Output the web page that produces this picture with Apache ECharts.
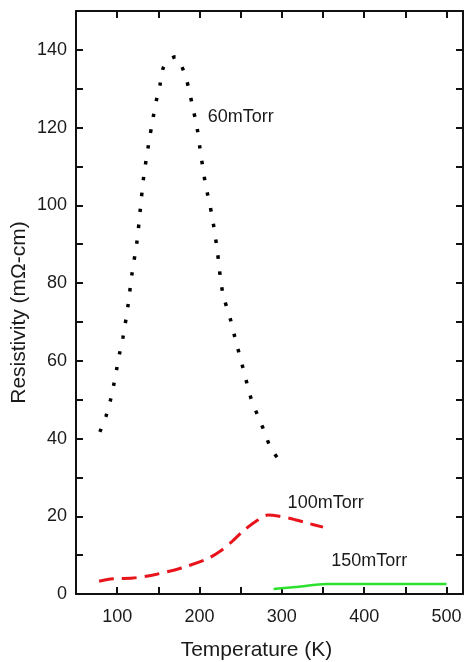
<!DOCTYPE html>
<html>
<head>
<meta charset="utf-8">
<script src="https://cdn.jsdelivr.net/npm/echarts@6/dist/echarts.min.js"></script>
<style>
html,body{margin:0;padding:0;background:#fff;}
#c{width:467px;height:662px;}
</style>
</head>
<body>
<div id="c"></div>
<script>
// Data (Temperature K, Resistivity mΩ-cm)
const seriesNames = ['60mTorr', '100mTorr', '150mTorr'];
const data60 = [[79,41.7],[86.5,45.8],[92,50],[96,54],[99.5,58],[103,62],[107,66],[113,74],[118,82.4],[124,90.6],[128,98.8],[132,107],[138,115.5],[144,123],[148,127.4],[152,131],[156,135.4],[163,137.5],[171,138.2],[181,134.4],[187,130],[191,126],[197,120],[201,114],[207,105.8],[215,97.5],[221,89.3],[228,77.7],[238,70.3],[243,66],[253,58],[263,50],[271,45.8],[279,41.7],[286,37.8],[298,34]];
const data100 = [[78,3.3],[95,3.9],[119,4.1],[148,5.1],[178,6.7],[209,9],[225,11],[240,13.6],[253,16.2],[269,18.8],[283,20.3],[297,20],[313,19.3],[330,18.3],[350,17.2]];
const data150 = [[290,1.3],[318,1.8],[354,2.6],[398,2.6],[446,2.6],[500,2.6]];
// annotation anchor points (data coords)
const labelPoints = [[210,122.7],[307,23.4],[360,8.5]];
const xTickLabels = [100,200,300,400,500];
const yTickLabels = [0,20,40,60,80,100,120,140];

const font = 'Liberation Sans, Arial, Helvetica, sans-serif';
const txt = '#1a1a1a';

function xAxisCfg(show, pos){
  return {
    type:'value', position:pos, min:50, max:520, interval:50,
    axisLine:{show:true, onZero:false, lineStyle:{color:'#111', width:2}},
    axisTick:{show:true, inside:true, length:7, lineStyle:{color:'#111', width:2}},
    splitLine:{show:false},
    axisLabel:{show:show, color:txt, fontSize:18, fontFamily:font, margin:14,
      formatter:v => xTickLabels.indexOf(v) >= 0 ? String(v) : ''},
    name: show ? 'Temperature (K)' : '', nameLocation:'middle', nameGap:46,
    nameTextStyle:{color:txt, fontSize:21, fontFamily:font, padding:[0,26,0,0]}
  };
}
function yAxisCfg(show, pos){
  return {
    type:'value', position:pos, min:0, max:150, interval:10,
    axisLine:{show:true, onZero:false, lineStyle:{color:'#111', width:2}},
    axisTick:{show:true, inside:true, length:7, lineStyle:{color:'#111', width:2}},
    splitLine:{show:false},
    axisLabel:{show:show, color:txt, fontSize:18, fontFamily:font, margin:9,
      formatter:v => yTickLabels.indexOf(v) >= 0 ? String(v) : ''},
    name: show ? 'Resistivity (mΩ-cm)' : '', nameLocation:'middle', nameGap:46,
    nameMoveOverlap:false,
    nameTextStyle:{color:txt, fontSize:21, fontFamily:font, padding:[0,20,0,0]}
  };
}

const chart = echarts.init(document.getElementById('c'), null, {renderer:'canvas'});
chart.setOption({
  animation:false,
  backgroundColor:'#fff',
  grid:{left:76, right:4, top:11, bottom:68, containLabel:false, outerBoundsMode:'none'},
  xAxis:[xAxisCfg(true,'bottom'), xAxisCfg(false,'top')],
  yAxis:[yAxisCfg(true,'left'), yAxisCfg(false,'right')],
  series:[
    {name:seriesNames[0], type:'line', data:data60, smooth:0.3, showSymbol:false,
     lineStyle:{color:'#000', width:3.5, type:[3.5,12.5], cap:'butt'}},
    {name:seriesNames[1], type:'line', data:data100, smooth:0.3, showSymbol:false,
     lineStyle:{color:'#e8141b', width:3, type:[15,8], cap:'butt'}},
    {name:seriesNames[2], type:'line', data:data150, smooth:0.3, showSymbol:false,
     lineStyle:{color:'#2ee02e', width:2.5}},
    {name:'labels', type:'scatter', symbolSize:0, silent:true,
     data:labelPoints.map((p,i)=>({value:p, name:seriesNames[i]})),
     itemStyle:{opacity:1},
     label:{show:true, position:[0,0], align:'left', verticalAlign:'middle',
       formatter:p=>p.name, color:txt, opacity:1, fontSize:18, fontFamily:font}}
  ]
});
</script>
</body>
</html>
